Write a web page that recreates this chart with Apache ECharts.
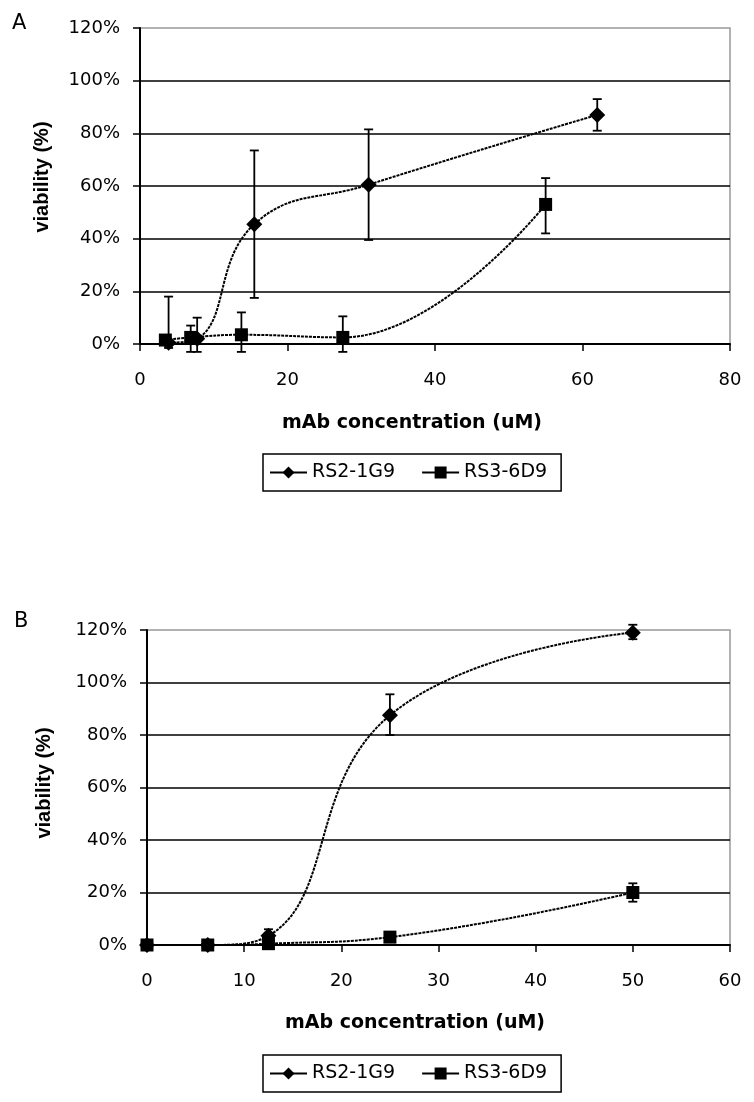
<!DOCTYPE html>
<html>
<head>
<meta charset="utf-8">
<script src="https://cdn.jsdelivr.net/npm/echarts@6/dist/echarts.min.js"></script>
<style>
html,body{margin:0;padding:0;background:#fff;}
#chart{width:754px;height:1102px;}
</style>
</head>
<body>
<div id="chart"></div>
<script>
// ---------- Data ----------
const seriesNames = ['RS2-1G9', 'RS3-6D9'];
const yTicksPct = [0, 20, 40, 60, 80, 100, 120];

// Panel A
const xA_rs2 = [3.875, 7.75, 15.5, 31, 62];
const yA_rs2 = [0.5, 2, 45.5, 60.5, 87];
const loA_rs2 = [-1.5, -3, 17.5, 39.5, 81];
const hiA_rs2 = [18, 10, 73.5, 81.5, 93];

const xA_rs3 = [3.4375, 6.875, 13.75, 27.5, 55];
const yA_rs3 = [1.5, 2.5, 3.5, 2.5, 53];
const loA_rs3 = [1.5, -3, -3, -3, 42];
const hiA_rs3 = [1.5, 7, 12, 10.5, 63];

// Panel B
const xB = [0, 6.25, 12.5, 25, 50];
const yB_rs2 = [0, 0, 3.5, 87.5, 119];
const loB_rs2 = [0, 0, 1, 80, 116.5];
const hiB_rs2 = [0, 0, 6, 95.5, 122];

const yB_rs3 = [0, 0, 0.5, 3, 20];
const loB_rs3 = [0, 0, 0, 2, 16.5];
const hiB_rs3 = [0, 0, 1, 4.5, 23.5];

// ---------- Helpers ----------
const zip = (xs, ys) => xs.map((x, i) => [x, ys[i]]);
const zip3 = (xs, lo, hi) => xs.map((x, i) => [x, lo[i], hi[i]]);

function errRender(params, api) {
  const x = api.value(0), lo = api.value(1), hi = api.value(2);
  if (lo === hi) return null;
  const p1 = api.coord([x, hi]);
  const p2 = api.coord([x, lo]);
  const cap = 4.5;
  const st = { stroke: '#000', lineWidth: 1.8 };
  return {
    type: 'group',
    children: [
      { type: 'line', shape: { x1: p1[0], y1: p1[1], x2: p2[0], y2: p2[1] }, style: st },
      { type: 'line', shape: { x1: p1[0] - cap, y1: p1[1], x2: p1[0] + cap, y2: p1[1] }, style: st },
      { type: 'line', shape: { x1: p2[0] - cap, y1: p2[1], x2: p2[0] + cap, y2: p2[1] }, style: st }
    ]
  };
}

const tickFont = { fontFamily: 'DejaVu Sans', fontSize: 18, color: '#000' };

function makeY(gridIndex) {
  return {
    type: 'value', gridIndex, min: yTicksPct[0], max: yTicksPct[yTicksPct.length - 1], interval: 20,
    axisLine: { show: true, lineStyle: { color: '#000', width: 2 } },
    axisTick: { show: true, length: 7, lineStyle: { color: '#000', width: 1.5 } },
    axisLabel: Object.assign({ formatter: '{value}%', margin: 20 }, tickFont),
    splitLine: { show: true, showMinLine: false, showMaxLine: false, lineStyle: { color: '#000', width: 1.6 } }
  };
}
function makeX(gridIndex, max, interval) {
  return {
    type: 'value', gridIndex, min: 0, max, interval,
    axisLine: { show: true, onZero: false, lineStyle: { color: '#000', width: 2 } },
    axisTick: { show: true, length: 7, lineStyle: { color: '#000', width: 1.5 } },
    axisLabel: Object.assign({ margin: 27 }, tickFont),
    splitLine: { show: false }
  };
}
const lineStyle = { color: '#000', width: 2, type: [3, 1] };
function lineSeries(name, data, xi, symbol, size) {
  return {
    name, type: 'line', xAxisIndex: xi, yAxisIndex: xi, data,
    smooth: 0.45, symbol, symbolSize: size, showAllSymbol: true,
    itemStyle: { color: '#000' }, lineStyle, z: 4, clip: false,
    emphasis: { disabled: true }
  };
}
function errSeries(data, xi) {
  return {
    type: 'custom', name: 'err', xAxisIndex: xi, yAxisIndex: xi,
    data, renderItem: errRender, encode: { x: 0, y: [1, 2] }, z: 3, clip: false, silent: true
  };
}
function legend(top) {
  return {
    data: seriesNames, left: 263, top, orient: 'horizontal',
    itemWidth: 37, itemHeight: 15, itemGap: 26,
    padding: [9, 14, 9, 6],
    borderColor: '#000', borderWidth: 1.5, borderRadius: 0,
    textStyle: { fontFamily: 'DejaVu Sans', fontSize: 19, color: '#000' },
    lineStyle: { type: 'solid', width: 2, color: '#000' },
    itemStyle: { color: '#000' },
    selectedMode: false
  };
}

const chart = echarts.init(document.getElementById('chart'), null, { renderer: 'canvas' });
chart.setOption({
  animation: false,
  backgroundColor: '#fff',
  grid: [
    { left: 140, top: 28, width: 590, height: 316, show: true, borderColor: '#999', borderWidth: 1.5, backgroundColor: 'transparent' },
    { left: 147, top: 630, width: 583, height: 315, show: true, borderColor: '#999', borderWidth: 1.5, backgroundColor: 'transparent' }
  ],
  xAxis: [makeX(0, 80, 20), makeX(1, 60, 10)],
  yAxis: [makeY(0), makeY(1)],
  legend: [legend(454), legend(1055)],
  graphic: [
    { type: 'text', left: 12, top: 13, style: { text: 'A', fontFamily: 'DejaVu Sans', fontSize: 21, fill: '#000' } },
    { type: 'text', left: 14, top: 611, style: { text: 'B', fontFamily: 'DejaVu Sans', fontSize: 21, fill: '#000' } },
    { type: 'text', x: 412, y: 423, style: { text: 'mAb concentration (uM)', align: 'center', verticalAlign: 'middle', fontFamily: 'DejaVu Sans', fontWeight: 'bold', fontSize: 19, fill: '#000' } },
    { type: 'text', x: 415, y: 1023, style: { text: 'mAb concentration (uM)', align: 'center', verticalAlign: 'middle', fontFamily: 'DejaVu Sans', fontWeight: 'bold', fontSize: 19, fill: '#000' } },
    { type: 'text', x: 42, y: 177, rotation: Math.PI / 2, style: { text: 'viability (%)', align: 'center', verticalAlign: 'middle', fontFamily: 'Liberation Sans', fontWeight: 'bold', fontSize: 20, fill: '#000' } },
    { type: 'text', x: 44, y: 783, rotation: Math.PI / 2, style: { text: 'viability (%)', align: 'center', verticalAlign: 'middle', fontFamily: 'Liberation Sans', fontWeight: 'bold', fontSize: 20, fill: '#000' } }
  ],
  series: [
    errSeries(zip3(xA_rs2, loA_rs2, hiA_rs2), 0),
    errSeries(zip3(xA_rs3, loA_rs3, hiA_rs3), 0),
    lineSeries(seriesNames[0], zip(xA_rs2, yA_rs2), 0, 'diamond', 16),
    lineSeries(seriesNames[1], zip(xA_rs3, yA_rs3), 0, 'rect', 13),
    errSeries(zip3(xB, loB_rs2, hiB_rs2), 1),
    errSeries(zip3(xB, loB_rs3, hiB_rs3), 1),
    lineSeries(seriesNames[0], zip(xB, yB_rs2), 1, 'diamond', 16),
    lineSeries(seriesNames[1], zip(xB, yB_rs3), 1, 'rect', 13)
  ]
});
</script>
</body>
</html>
